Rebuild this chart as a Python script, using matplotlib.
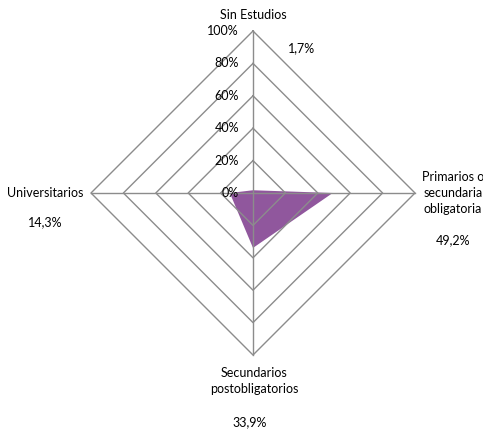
import numpy as np
import matplotlib.pyplot as plt

categories = ['Sin Estudios', 'Primarios o\nsecundaria\nobligatoria', 'Secundarios\npostobligatorios', 'Universitarios']
values = [1.7, 49.2, 33.9, 14.3]
value_labels = ['1,7%', '49,2%', '33,9%', '14,3%']
grid_levels = [20, 40, 60, 80, 100]
tick_labels = ['0%', '20%', '40%', '60%', '80%', '100%']

plt.rcParams['font.family'] = ['Lato', 'DejaVu Sans']

fig = plt.figure(figsize=(4.83, 4.37), dpi=100)
ax = fig.add_axes([0, 0, 1, 1])
R = 162.0
ax.set_xlim(-253 / R, (483 - 253) / R)
ax.set_ylim(-244 / R, 193 / R)
ax.axis('off')

# angles: top, right, bottom, left
ang = np.pi / 2 - np.arange(4) * np.pi / 2
dx, dy = np.cos(ang), np.sin(ang)

grid_color = '#8c8c8c'
for lv in grid_levels:
    r = lv / 100
    ax.plot(np.append(dx * r, dx[0] * r), np.append(dy * r, dy[0] * r), color=grid_color, lw=1)
for i in range(4):
    ax.plot([0, dx[i]], [0, dy[i]], color=grid_color, lw=1)

v = np.array(values) / 100
ax.fill(dx * v, dy * v, color='#7d3a8c', alpha=0.85, lw=0)

fs = 9
for k, lab in enumerate(tick_labels):
    ax.text(-14 / R, k * 0.2, lab, ha='right', va='center', fontsize=fs)

ax.text(0, 178 / R, categories[0], ha='center', va='center', fontsize=fs)
ax.text(49 / R, 145 / R, value_labels[0], ha='center', va='center', fontsize=fs)

ax.text(200 / R, 0, categories[1], ha='center', va='center', fontsize=fs, linespacing=1.4)
ax.text(200 / R, -47 / R, value_labels[1], ha='center', va='center', fontsize=fs)

ax.text(1 / R, -188 / R, categories[2], ha='center', va='center', fontsize=fs, linespacing=1.4)
ax.text(-3 / R, -229 / R, value_labels[2], ha='center', va='center', fontsize=fs)

ax.text(-208 / R, 0, categories[3], ha='center', va='center', fontsize=fs)
ax.text(-208 / R, -29 / R, value_labels[3], ha='center', va='center', fontsize=fs)

fig.savefig('out.png', dpi=100)
